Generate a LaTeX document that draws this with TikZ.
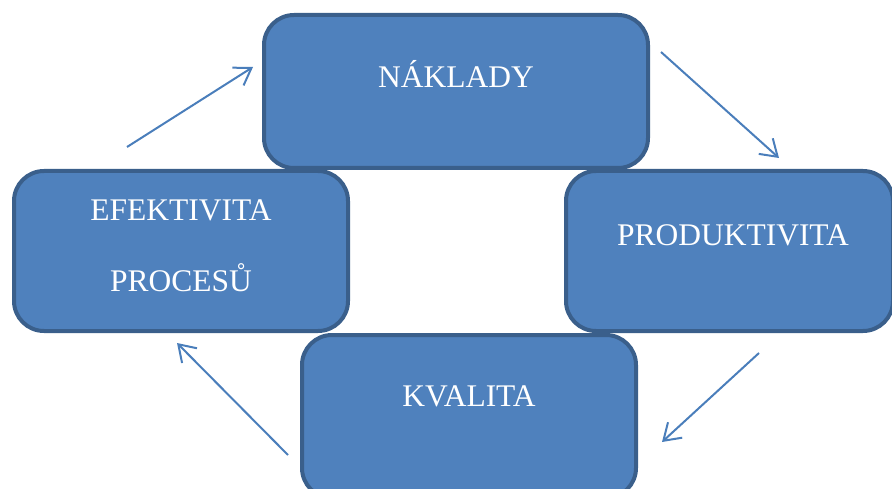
\documentclass[tikz,border=0pt]{standalone}
\usepackage{fontspec}
\setmainfont{Liberation Serif}
\usetikzlibrary{arrows.meta}
\definecolor{boxfill}{HTML}{4F81BD}
\definecolor{boxline}{HTML}{3A5F8B}
\definecolor{arrowc}{HTML}{4A7EBB}
\tikzset{
  box/.style={draw=boxline, fill=boxfill, line width=4pt, rounded corners=30pt, inner sep=0pt, rectangle},
  lbl/.style={text=white, font=\fontsize{31.5pt}{36pt}\selectfont, anchor=base, inner sep=0pt},
  cyc/.style={draw=arrowc, line width=2pt, -{Straight Barb[length=16pt,width=21pt,line width=2pt]}}
}
\begin{document}
\begin{tikzpicture}[x=1pt,y=-1pt]
\clip (0,0) rectangle (892,489);
\useasboundingbox (0,0) rectangle (892,489);
\node[box, minimum width=384pt, minimum height=153pt] (nak) at (456,91.5) {};
\node[box, minimum width=334pt, minimum height=160pt] (efe) at (181,251) {};
\node[box, minimum width=327pt, minimum height=160pt] (pro) at (729.5,251) {};
\node[box, minimum width=334pt, minimum height=163pt] (kva) at (469,416.5) {};
\node[lbl] (tnak) at (456,88) {NÁKLADY};
\node[lbl] (tefe1) at (181,221) {EFEKTIVITA};
\node[lbl] (tefe2) at (181,291) {PROCESŮ};
\node[lbl] (tpro) at (733,246) {PRODUKTIVITA};
\node[lbl] (tkva) at (469,406) {KVALITA};
\coordinate (a1s) at (127,147);
\coordinate (a1e) at (253,67);
\coordinate (a2s) at (661,52);
\coordinate (a2e) at (779,158);
\coordinate (a3s) at (759,353);
\coordinate (a3e) at (662,442);
\coordinate (a4s) at (288,455);
\coordinate (a4e) at (177,343);
\draw[cyc] (a1s) -- (a1e);
\draw[cyc] (a2s) -- (a2e);
\draw[cyc] (a3s) -- (a3e);
\draw[cyc] (a4s) -- (a4e);
\end{tikzpicture}
\end{document}
